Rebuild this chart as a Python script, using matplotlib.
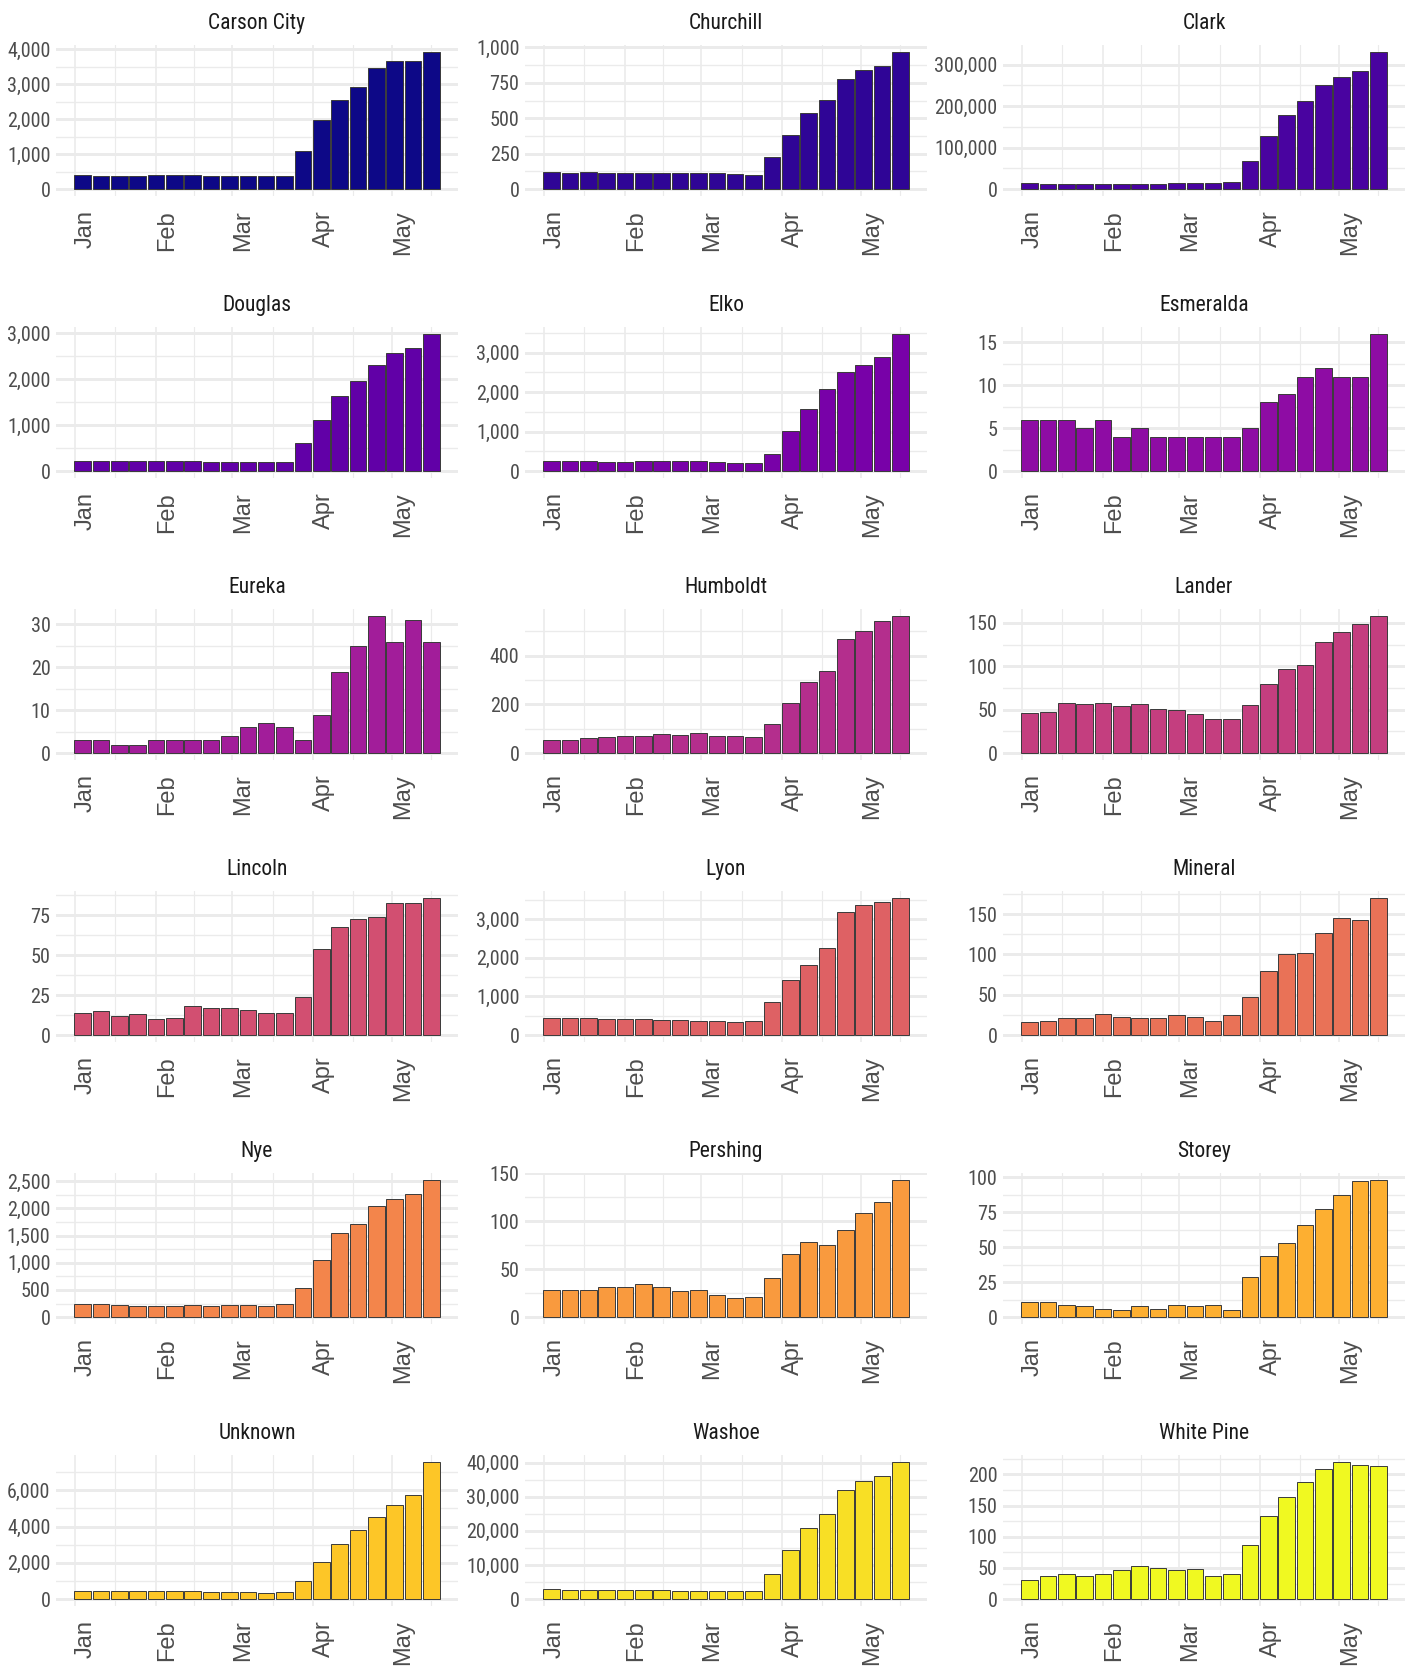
import numpy as np
import matplotlib
matplotlib.use('Agg')
import matplotlib.pyplot as plt
from matplotlib.ticker import MultipleLocator, FuncFormatter

# weekly cumulative counts per county
carson_city = [410, 385, 385, 385, 410, 410, 410, 385, 385, 365, 365, 365, 1080, 1970, 2545, 2910, 3465, 3655, 3675, 3925]
churchill = [123, 116, 123, 111, 111, 111, 111, 111, 111, 111, 106, 99, 225, 383, 537, 629, 780, 844, 872, 969]
clark = [14500, 12100, 12100, 12100, 12100, 12100, 12100, 12100, 14500, 14500, 14500, 17000, 68000, 129000, 179000, 212000, 251000, 270000, 285000, 331000]
douglas = [218, 218, 218, 218, 218, 218, 218, 196, 196, 196, 196, 196, 603, 1104, 1634, 1953, 2309, 2564, 2680, 2985]
elko = [254, 254, 254, 228, 228, 254, 254, 254, 254, 237, 194, 194, 440, 1006, 1581, 2088, 2502, 2688, 2891, 3474]
esmeralda = [6, 6, 6, 5, 6, 4, 5, 4, 4, 4, 4, 4, 5, 8, 9, 11, 12, 11, 11, 16]
eureka = [3, 3, 2, 2, 3, 3, 3, 3, 4, 6, 7, 6, 3, 9, 19, 25, 32, 26, 31, 26]
humboldt = [52, 52, 64, 68, 71, 71, 78, 75, 82, 71, 71, 68, 120, 204, 294, 336, 468, 501, 543, 564]
lander = [46, 47, 58, 56, 58, 54, 57, 51, 50, 45, 39, 39, 55, 80, 97, 101, 128, 139, 149, 158]
lincoln = [14, 15, 12, 13, 10, 11, 18, 17, 17, 16, 14, 14, 24, 54, 68, 73, 74, 83, 83, 86]
lyon = [431, 431, 431, 405, 405, 405, 379, 379, 362, 362, 345, 362, 845, 1431, 1819, 2267, 3181, 3362, 3448, 3552]
mineral = [16, 18, 21, 21, 26, 23, 21, 21, 25, 22, 18, 25, 47, 80, 100, 102, 126, 145, 143, 170]
nye = [246, 246, 228, 203, 203, 203, 228, 203, 228, 228, 203, 240, 542, 1059, 1545, 1706, 2050, 2167, 2260, 2525]
pershing = [28, 28, 28, 31, 31, 35, 31, 27, 28, 23, 20, 21, 41, 66, 78, 75, 91, 108, 120, 143]
storey = [11, 11, 9, 8, 6, 5, 8, 6, 9, 8, 9, 5, 29, 44, 53, 66, 77, 87, 97, 98]
unknown = [424, 424, 424, 424, 424, 424, 424, 369, 369, 369, 314, 369, 996, 2066, 3044, 3800, 4539, 5166, 5738, 7565]
washoe = [2840, 2550, 2550, 2550, 2550, 2550, 2550, 2250, 2250, 2250, 2250, 2250, 7450, 14400, 20700, 25000, 31900, 34500, 36100, 40200]
white_pine = [31, 37, 40, 37, 41, 46, 53, 50, 46, 48, 37, 41, 86, 134, 163, 187, 209, 220, 215, 214]

counties = ['Carson City', 'Churchill', 'Clark', 'Douglas', 'Elko', 'Esmeralda',
            'Eureka', 'Humboldt', 'Lander', 'Lincoln', 'Lyon', 'Mineral',
            'Nye', 'Pershing', 'Storey', 'Unknown', 'Washoe', 'White Pine']
series = [carson_city, churchill, clark, douglas, elko, esmeralda,
          eureka, humboldt, lander, lincoln, lyon, mineral,
          nye, pershing, storey, unknown, washoe, white_pine]
y_steps = [1000, 250, 100000, 1000, 1000, 5, 10, 200, 50, 25, 1000, 50,
           500, 50, 25, 2000, 10000, 50]

first_week = np.datetime64('2020-01-04')
origin = np.datetime64('2020-01-01')
month_starts = np.array(['2020-01-01', '2020-02-01', '2020-03-01', '2020-04-01', '2020-05-01'], dtype='datetime64[D]')
month_labels = ['Jan', 'Feb', 'Mar', 'Apr', 'May']

narrow = ['Roboto Condensed', 'Liberation Sans', 'DejaVu Sans']
plt.rcParams['font.family'] = narrow

weeks = first_week + 7 * np.arange(len(carson_city))
x = (weeks - origin).astype(int)
mx = (month_starts - origin).astype(int)
minor_x = list((mx[:-1] + mx[1:]) / 2) + [mx[-1] + (mx[-1] - mx[-2]) / 2]

colors = plt.cm.plasma(np.linspace(0, 1, len(counties)))

W, H = 1413, 1669
fig = plt.figure(figsize=(W / 100, H / 100), dpi=100)
col_left = [56, 525, 1003]
pw, ph = 402, 151

xlo = x[0] - 3.15
xhi = x[-1] + 3.15
xpad = 0.05 * (xhi - xlo)

for i, (name, vals) in enumerate(zip(counties, series)):
    r, c = divmod(i, 3)
    top = 45 + 282 * r
    ax = fig.add_axes([col_left[c] / W, 1 - (top + ph) / H, pw / W, ph / H])
    ax.bar(x, vals, width=6.3, color=colors[i], edgecolor='#3a3a3a', linewidth=0.7, zorder=3)
    vmax = max(vals)
    ax.set_ylim(-0.05 * vmax, 1.05 * vmax)
    ax.set_xlim(xlo - xpad, xhi + xpad)

    ax.yaxis.set_major_locator(MultipleLocator(y_steps[i]))
    ax.yaxis.set_minor_locator(MultipleLocator(y_steps[i] / 2))
    ax.yaxis.set_major_formatter(FuncFormatter(lambda v, p: f'{round(v):,}'))
    ax.set_xticks(mx)
    ax.set_xticklabels(month_labels, rotation=90, ha='left', va='top',
                       family=['Liberation Sans', 'DejaVu Sans'], fontsize=17)
    ax.set_xticks(minor_x, minor=True)

    ax.grid(axis='y', which='major', color='#ebebeb', linewidth=2.1, zorder=0)
    ax.grid(axis='y', which='minor', color='#ebebeb', linewidth=1.0, zorder=0)
    ax.grid(axis='x', which='major', color='#ebebeb', linewidth=1.2, zorder=0)
    ax.grid(axis='x', which='minor', color='#ebebeb', linewidth=0.85, zorder=0)
    ax.set_axisbelow(True)

    for s in ax.spines.values():
        s.set_visible(False)
    ax.tick_params(axis='both', which='both', length=0)
    ax.tick_params(axis='y', labelsize=14.5, labelcolor='#4d4d4d', pad=4)
    ax.tick_params(axis='x', labelcolor='#4d4d4d', pad=10)
    ax.set_title(name, fontsize=15.5, color='#1a1a1a', pad=11.5)

fig.savefig('out.png', dpi=100, facecolor='white')
